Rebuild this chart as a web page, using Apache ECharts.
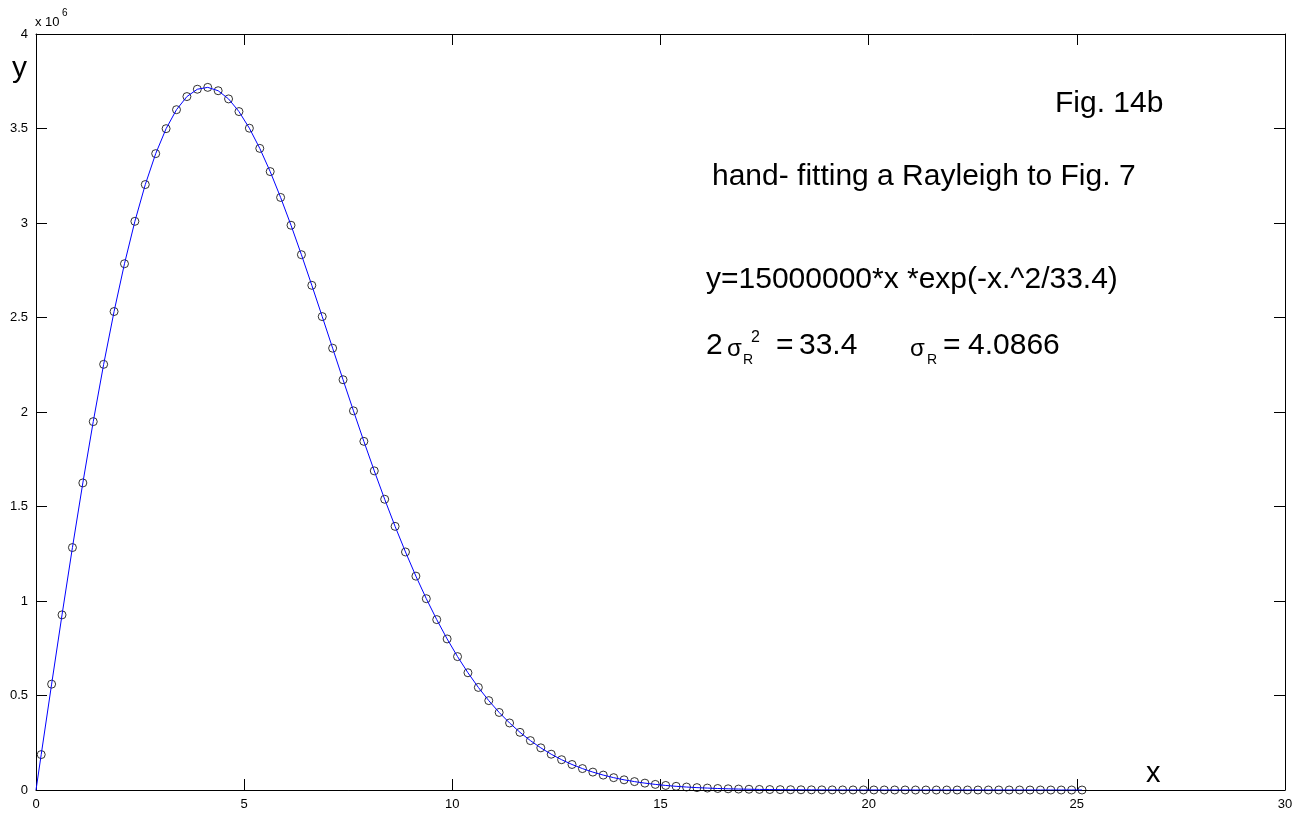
<!DOCTYPE html>
<html>
<head>
<meta charset="utf-8">
<title>Fig. 14b</title>
<script src="https://cdn.jsdelivr.net/npm/echarts@6/dist/echarts.min.js"></script>
<style>
  html, body { margin: 0; padding: 0; background: #fff; }
  #main { width: 1307px; height: 824px; }
</style>
</head>
<body>
<div id="main"></div>
<script>
// x positions of the circles (bin centres)
var xCircle = [
    0.125, 0.375, 0.625, 0.875, 1.125, 1.375, 1.625, 1.875, 2.125, 2.375,
    2.625, 2.875, 3.125, 3.375, 3.625, 3.875, 4.125, 4.375, 4.625, 4.875,
    5.125, 5.375, 5.625, 5.875, 6.125, 6.375, 6.625, 6.875, 7.125, 7.375,
    7.625, 7.875, 8.125, 8.375, 8.625, 8.875, 9.125, 9.375, 9.625, 9.875,
    10.125, 10.375, 10.625, 10.875, 11.125, 11.375, 11.625, 11.875, 12.125, 12.375,
    12.625, 12.875, 13.125, 13.375, 13.625, 13.875, 14.125, 14.375, 14.625, 14.875,
    15.125, 15.375, 15.625, 15.875, 16.125, 16.375, 16.625, 16.875, 17.125, 17.375,
    17.625, 17.875, 18.125, 18.375, 18.625, 18.875, 19.125, 19.375, 19.625, 19.875,
    20.125, 20.375, 20.625, 20.875, 21.125, 21.375, 21.625, 21.875, 22.125, 22.375,
    22.625, 22.875, 23.125, 23.375, 23.625, 23.875, 24.125, 24.375, 24.625, 24.875,
    25.125
];
// y values of the circles, in units of 10^6
var yCircle = [
    0.1874, 0.5601, 0.9266, 1.2828, 1.6247, 1.9490, 2.2522, 2.5315, 2.7844, 3.0089,
    3.2034, 3.3670, 3.4991, 3.5996, 3.6689, 3.7078, 3.7176, 3.6999, 3.6565, 3.5896,
    3.5016, 3.3948, 3.2720, 3.1352, 2.9881, 2.8322, 2.6703, 2.5048, 2.3377, 2.1708,
    2.0061, 1.8448, 1.6885, 1.5384, 1.3950, 1.2594, 1.1316, 1.0122, 0.9016, 0.7993,
    0.7058, 0.6203, 0.5427, 0.4729, 0.4103, 0.3546, 0.3050, 0.2613, 0.2230, 0.1894,
    0.1603, 0.1350, 0.1133, 0.0947, 0.0788, 0.0653, 0.0539, 0.0444, 0.0363, 0.0296,
    0.0241, 0.0195, 0.0157, 0.0126, 0.0101, 0.0080, 0.0063, 0.0050, 0.0040, 0.0031,
    0.0024, 0.0019, 0.0015, 0.0011, 0.0009, 0.0007, 0.0005, 0.0004, 0.0003, 0.0002,
    0.0002, 0.0001, 0.0001, 0.0001, 0, 0, 0, 0, 0, 0,
    0, 0, 0, 0, 0, 0, 0, 0, 0, 0,
    0
];
// the fitted curve starts at the origin
var curveStartX = [0];
var curveStartY = [0];

var xTicks = [0, 30, 5];
var yTicks = [0, 4, 0.5];

var font = 'Arial, "Liberation Sans", sans-serif';

function pairs(xs, ys) {
    var d = [];
    for (var i = 0; i < xs.length; i++) {
        d.push([xs[i], ys[i]]);
    }
    return d;
}

// plain text helper for the annotations
function label(text, left, top, size) {
    return {
        type: 'text', left: left, top: top,
        style: { text: text, fontSize: size, fontFamily: font, fill: '#000' }
    };
}

var myChart = echarts.init(document.getElementById('main'));

var axisCommon = {
    type: 'value',
    axisLine: { show: true, onZero: false, lineStyle: { color: '#000', width: 1 } },
    axisTick: { show: true, inside: true, length: 11, lineStyle: { color: '#000' } },
    splitLine: { show: false }
};

var option = {
    backgroundColor: '#fff',
    animation: false,
    grid: { left: 36, right: 22, top: 34, bottom: 34, containLabel: false },
    xAxis: [
        Object.assign({}, axisCommon, {
            position: 'bottom', min: xTicks[0], max: xTicks[1], interval: xTicks[2],
            axisLabel: { color: '#000', fontSize: 13, fontFamily: font, margin: 8 }
        }),
        Object.assign({}, axisCommon, {
            position: 'top', min: xTicks[0], max: xTicks[1], interval: xTicks[2],
            axisLabel: { show: false }
        })
    ],
    yAxis: [
        Object.assign({}, axisCommon, {
            position: 'left', min: yTicks[0], max: yTicks[1], interval: yTicks[2],
            axisLabel: { color: '#000', fontSize: 13, fontFamily: font, margin: 8 }
        }),
        Object.assign({}, axisCommon, {
            position: 'right', min: yTicks[0], max: yTicks[1], interval: yTicks[2],
            axisLabel: { show: false }
        })
    ],
    series: [
        {
            name: 'fit',
            type: 'line',
            showSymbol: false,
            symbol: 'none',
            lineStyle: { color: '#0000ff', width: 1 },
            data: pairs(curveStartX.concat(xCircle), curveStartY.concat(yCircle))
        },
        {
            name: 'data',
            type: 'scatter',
            symbol: 'circle',
            symbolSize: 8,
            itemStyle: { color: 'rgba(0,0,0,0)', borderColor: '#000', borderWidth: 1 },
            data: pairs(xCircle, yCircle)
        }
    ],
    graphic: [
        // axis exponent and axis names
        label('x 10', 35, 16, 13),
        label('6', 62, 8, 10),
        label('y', 12, 54, 30),
        label('x', 1146, 759, 29),
        // annotations
        label('Fig. 14b', 1055, 89, 30),
        label('hand- fitting a Rayleigh to Fig. 7', 712, 162, 30),
        label('y=15000000*x *exp(-x.^2/33.4)', 706, 265, 30),
        label('2', 706, 331, 30),
        label('σ', 727, 337, 24),
        label('R', 743, 353, 14),
        label('2', 751, 330, 16),
        label('=', 776, 331, 30),
        label('33.4', 799, 331, 30),
        label('σ', 910, 337, 24),
        label('R', 927, 353, 14),
        label('=', 943, 331, 30),
        label('4.0866', 968, 331, 30)
    ]
};

myChart.setOption(option);
</script>
</body>
</html>
